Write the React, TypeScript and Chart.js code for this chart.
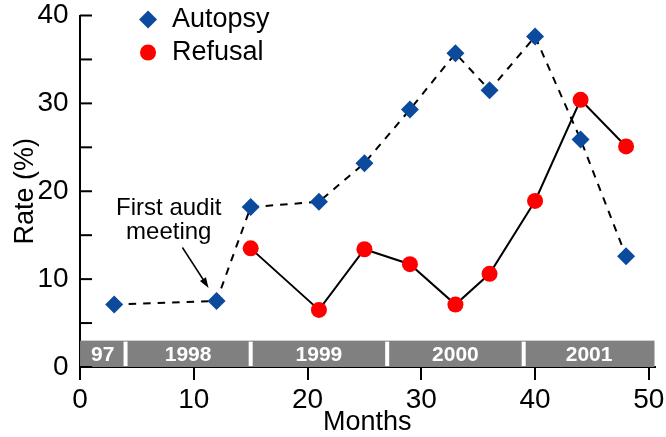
import { useEffect, useRef } from 'react';
import { Chart, registerables } from 'chart.js';

Chart.register(...registerables);

const FONT = '"Liberation Sans", Arial, Helvetica, sans-serif';

// months since start of audit / rate (%)
const autopsyMonths = [3, 12, 15, 21, 25, 29, 33, 36, 40, 44, 48];
const autopsyRate = [7.1, 7.5, 18.2, 18.8, 23.2, 29.3, 35.7, 31.5, 37.6, 25.9, 12.6];
const refusalMonths = [15, 21, 25, 29, 33, 36, 40, 44, 48];
const refusalRate = [13.5, 6.5, 13.4, 11.7, 7.1, 10.6, 18.9, 30.4, 25.1];

// calendar year strip along the bottom
const yearLabels = ['97', '1998', '1999', '2000', '2001'];
const yearStarts = [0, 4, 15, 27, 39];
const stripEnd = 50.5;
const stripTop = 3;

// annotation text and arrow, in data units
const noteLines = ['First audit', 'meeting'];
const noteAt = { x: 7.8, y: 18.0 };
const arrowFrom = { x: 9.0, y: 13.6 };
const arrowTo = { x: 11.3, y: 9.0 };

const BLUE = '#0b4a9c';
const RED = '#ff0000';

const toPoints = (xs: number[], ys: number[]) => xs.map((x, i) => ({ x, y: ys[i] }));

const yearStrip = {
  id: 'yearStrip',
  beforeDatasetsDraw(chart: any) {
    const { ctx, scales } = chart;
    const x = scales.x;
    const y = scales.y;
    const top = y.getPixelForValue(stripTop);
    const bottom = y.getPixelForValue(0);
    ctx.save();
    ctx.fillStyle = '#808080';
    ctx.fillRect(x.getPixelForValue(0), top, x.getPixelForValue(stripEnd) - x.getPixelForValue(0), bottom - top);
    ctx.strokeStyle = '#fff';
    ctx.lineWidth = 4;
    yearStarts.slice(1).forEach((m) => {
      const px = x.getPixelForValue(m);
      ctx.beginPath();
      ctx.moveTo(px, top + 1);
      ctx.lineTo(px, bottom - 1);
      ctx.stroke();
    });
    ctx.fillStyle = '#fff';
    ctx.font = `bold 21px ${FONT}`;
    ctx.textAlign = 'center';
    ctx.textBaseline = 'middle';
    yearLabels.forEach((label, i) => {
      const end = i + 1 < yearStarts.length ? yearStarts[i + 1] : stripEnd;
      const mid = (yearStarts[i] + end) / 2;
      ctx.fillText(label, x.getPixelForValue(mid), (top + bottom) / 2 + 1);
    });
    ctx.restore();
  },
};

// y ticks point into the plot
const innerTicks = {
  id: 'innerTicks',
  beforeDatasetsDraw(chart: any) {
    const { ctx, scales, chartArea } = chart;
    ctx.save();
    ctx.strokeStyle = '#000';
    ctx.lineWidth = 2;
    scales.y.ticks.forEach((t: any) => {
      const py = scales.y.getPixelForValue(t.value);
      ctx.beginPath();
      ctx.moveTo(chartArea.left, py);
      ctx.lineTo(chartArea.left + 12, py);
      ctx.stroke();
    });
    ctx.restore();
  },
};

const note = {
  id: 'note',
  afterDatasetsDraw(chart: any) {
    const { ctx, scales } = chart;
    const x = scales.x;
    const y = scales.y;
    ctx.save();
    ctx.fillStyle = '#000';
    ctx.font = `24px ${FONT}`;
    ctx.textAlign = 'center';
    ctx.textBaseline = 'middle';
    noteLines.forEach((line, i) => {
      ctx.fillText(line, x.getPixelForValue(noteAt.x), y.getPixelForValue(noteAt.y) + i * 24);
    });
    const x0 = x.getPixelForValue(arrowFrom.x);
    const y0 = y.getPixelForValue(arrowFrom.y);
    const x1 = x.getPixelForValue(arrowTo.x);
    const y1 = y.getPixelForValue(arrowTo.y);
    const a = Math.atan2(y1 - y0, x1 - x0);
    const head = 11;
    ctx.strokeStyle = '#000';
    ctx.lineWidth = 1.5;
    ctx.beginPath();
    ctx.moveTo(x0, y0);
    ctx.lineTo(x1 - Math.cos(a) * head * 0.8, y1 - Math.sin(a) * head * 0.8);
    ctx.stroke();
    ctx.beginPath();
    ctx.moveTo(x1, y1);
    ctx.lineTo(x1 - head * Math.cos(a - 0.33), y1 - head * Math.sin(a - 0.33));
    ctx.lineTo(x1 - head * Math.cos(a + 0.33), y1 - head * Math.sin(a + 0.33));
    ctx.closePath();
    ctx.fill();
    ctx.restore();
  },
};

const cornerLegend = {
  id: 'cornerLegend',
  afterDraw(chart: any) {
    const { ctx, chartArea } = chart;
    chart.data.datasets.forEach((ds: any, i: number) => {
      const cx = chartArea.left + 68;
      const cy = chartArea.top + 4 + i * 33;
      ctx.save();
      ctx.fillStyle = ds.pointBackgroundColor;
      ctx.beginPath();
      if (ds.pointStyle === 'rectRot') {
        const r = ds.pointRadius;
        ctx.moveTo(cx - r, cy);
        ctx.lineTo(cx, cy - r);
        ctx.lineTo(cx + r, cy);
        ctx.lineTo(cx, cy + r);
        ctx.closePath();
      } else {
        ctx.arc(cx, cy, ds.pointRadius, 0, Math.PI * 2);
      }
      ctx.fill();
      ctx.fillStyle = '#000';
      ctx.font = `27px ${FONT}`;
      ctx.textAlign = 'left';
      ctx.textBaseline = 'middle';
      ctx.fillText(ds.label, cx + 24, cy);
      ctx.restore();
    });
  },
};

const App = () => {
  const canvasRef = useRef<HTMLCanvasElement>(null);

  useEffect(() => {
    if (!canvasRef.current) return;
    const chart = new Chart(canvasRef.current, {
      type: 'scatter',
      data: {
        datasets: [
          {
            label: 'Autopsy',
            data: toPoints(autopsyMonths, autopsyRate),
            showLine: true,
            borderColor: '#000',
            borderWidth: 2,
            borderDash: [7.5, 7],
            pointStyle: 'rectRot',
            pointRadius: 9,
            pointBackgroundColor: BLUE,
            pointBorderColor: BLUE,
            pointBorderWidth: 0,
            order: 2,
          },
          {
            label: 'Refusal',
            data: toPoints(refusalMonths, refusalRate),
            showLine: true,
            borderColor: '#000',
            borderWidth: 2,
            pointStyle: 'circle',
            pointRadius: 8,
            pointBackgroundColor: RED,
            pointBorderColor: RED,
            pointBorderWidth: 0,
            order: 1,
          },
        ],
      },
      options: {
        animation: false,
        responsive: true,
        maintainAspectRatio: false,
        layout: { padding: { left: 0, top: 15.5, right: 11, bottom: 3.5 } },
        plugins: {
          legend: { display: false },
          tooltip: { enabled: false },
        },
        scales: {
          x: {
            type: 'linear',
            min: 0,
            max: stripEnd,
            grid: { drawOnChartArea: false, drawTicks: true, tickLength: 13, color: '#000', lineWidth: 2 },
            border: { display: true, color: '#000', width: 2 },
            ticks: {
              stepSize: 10,
              includeBounds: false,
              padding: 1.5,
              color: '#000',
              font: { family: FONT, size: 28, lineHeight: 1.35 },
            },
            title: {
              display: true,
              text: 'Months',
              color: '#000',
              font: { family: FONT, size: 27, lineHeight: 1 },
              padding: { top: -11.8, bottom: -2.5 },
            },
          },
          y: {
            min: 0,
            max: 40,
            grid: { display: false, drawTicks: false },
            border: { display: true, color: '#000', width: 2 },
            ticks: {
              stepSize: 5,
              autoSkip: false,
              padding: 11.5,
              color: '#000',
              font: { family: FONT, size: 28, lineHeight: 0.1 },
              callback: (v: any) => (v % 10 === 0 ? String(v) : ''),
            },
            title: {
              display: true,
              text: 'Rate (%)',
              color: '#000',
              font: { family: FONT, size: 27, lineHeight: 1 },
              padding: { top: 12, bottom: -13.1 },
            },
          },
        },
      },
      plugins: [yearStrip, innerTicks, note, cornerLegend],
    });

    return () => {
      chart.destroy();
    };
  }, []);

  return (
    <div style={{ position: 'fixed', left: 0, top: 0, width: 666, height: 437, background: '#fff' }}>
      <canvas ref={canvasRef} />
    </div>
  );
};

export default App;
